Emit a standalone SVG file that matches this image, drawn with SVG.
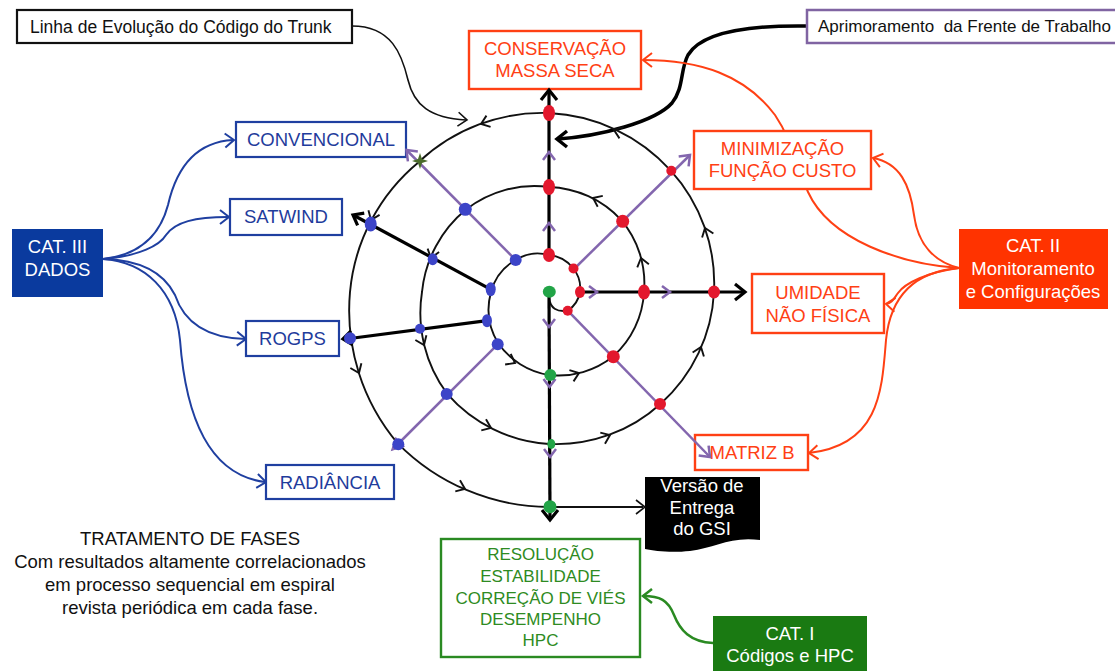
<svg xmlns="http://www.w3.org/2000/svg" width="1115" height="671" viewBox="0 0 1115 671">
<defs>
<style>
text{font-family:"Liberation Sans",Arial,sans-serif;}
.t17{font-size:17.5px;fill:#111}
.lb{font-size:18.5px;text-anchor:middle}
.lbs{font-size:17px;text-anchor:middle}
.tb{fill:#1F3C9C}.to{fill:#FF4014}.tg{fill:#2E8B22}.tw{fill:#fff}.tk{fill:#111}
.bxB{fill:#fff;stroke:#1F3FA0;stroke-width:2.2}
.bxO{fill:#fff;stroke:#FF4014;stroke-width:2.4}
.bxG{fill:#fff;stroke:#2A8A22;stroke-width:2.4}
.bxK{fill:#fff;stroke:#111;stroke-width:2.2}
.bxP{fill:#fff;stroke:#8064A2;stroke-width:2.5}
.k1{fill:none;stroke:#111;stroke-width:1.6}
.k3{fill:none;stroke:#000;stroke-width:3.5}
.cb{fill:none;stroke:#1F3FA0;stroke-width:2}
.co{fill:none;stroke:#FF4014;stroke-width:2}
.cg{fill:none;stroke:#2A8A22;stroke-width:2.5}
.sp{fill:none;stroke:#111;stroke-width:1.9}
.ax{fill:none;stroke:#000;stroke-width:3.2}
.pu{fill:none;stroke:#8366AE;stroke-width:2.5}
.puf{fill:#8366AE;stroke:#8366AE;stroke-width:1}
.rd{fill:#E3182D}.bl{fill:#3C44C8}.gr{fill:#22A447}
</style>
<path id="chS" d="M-8,-6 L0,0 L-8,6"/>
<path id="chM" d="M-9,-7 L0,0 L-9,7"/>
<path id="chL" d="M-10,-8 L0,0 L-10,8"/>
<path id="tri" d="M-12,-6 L0,0 L-12,6 Z"/>
</defs>
<rect width="1115" height="671" fill="#fff"/>

<g id="connectors">
  <path class="k1" d="M352,26 C392,26 402,55 408,80 C414,105 430,118 466,120"/>
  <use href="#chM" class="k1" transform="translate(467,120) rotate(5)"/>
  <path class="k3" d="M807,26 C740,25 700,35 688,55 C680,70 684,88 672,103 C655,122 600,136 558,139"/>
  <use href="#chL" class="k3" transform="translate(557,139) rotate(180)"/>

  <path class="cb" d="M103,259 C140,255 160,235 168,205 C176,170 195,142 233,140"/>
  <use href="#chM" class="cb" transform="translate(234,140) rotate(-3)"/>
  <path class="cb" d="M103,259 C140,256 160,245 166,235 C175,222 195,217 228,217"/>
  <use href="#chM" class="cb" transform="translate(229,217) rotate(0)"/>
  <path class="cb" d="M103,259 C145,260 165,275 175,295 C185,325 210,338 245,339"/>
  <use href="#chM" class="cb" transform="translate(246,339) rotate(2)"/>
  <path class="cb" d="M103,259 C145,262 175,290 180,340 C186,420 210,475 265,482"/>
  <use href="#chM" class="cb" transform="translate(266,482) rotate(7)"/>

  <path class="co" d="M959,268 C900,264 830,240 808,192 C796,165 792,140 775,115 C745,75 700,60 643,60"/>
  <use href="#chM" class="co" transform="translate(643,60) rotate(180)"/>
  <path class="co" d="M959,268 C935,262 918,245 914,215 C910,185 900,163 873,158"/>
  <use href="#chM" class="co" transform="translate(873,158) rotate(195)"/>
  <path class="co" d="M959,268 C928,272 905,283 898,293 C893,300 892,303 886,304"/>
  <use href="#chM" class="co" transform="translate(886,304) rotate(185)"/>
  <path class="co" d="M959,268 C910,272 890,300 886,340 C882,390 880,445 809,453"/>
  <use href="#chM" class="co" transform="translate(809,453) rotate(175)"/>

  <path class="cg" d="M713,643 C690,642 680,630 674,615 C668,600 660,596 643,596"/>
  <use href="#chM" class="cg" transform="translate(643,596) rotate(180)"/>
</g>

<g id="linha">
  <rect class="bxK" x="17" y="10" width="335" height="33"/>
  <text class="t17" x="30" y="33">Linha de Evolução do Código do Trunk</text>
</g>
<g id="aprimoramento">
  <rect class="bxP" x="807" y="10" width="318" height="33"/>
  <text class="t17" x="818" y="32" xml:space="preserve" style="font-size:17px">Aprimoramento  da Frente de Trabalho</text>
</g>
<g id="conservacao">
  <rect class="bxO" x="469" y="31" width="172" height="58"/>
  <text class="lb to" x="555" y="55">CONSERVAÇÃO</text>
  <text class="lb to" x="555" y="77">MASSA SECA</text>
</g>
<g id="minimizacao">
  <rect class="bxO" x="694" y="131" width="177" height="58"/>
  <text class="lb to" x="782.5" y="155">MINIMIZAÇÃO</text>
  <text class="lb to" x="782.5" y="177">FUNÇÃO CUSTO</text>
</g>
<g id="umidade">
  <rect class="bxO" x="752" y="274" width="132" height="59"/>
  <text class="lb to" x="818" y="299">UMIDADE</text>
  <text class="lb to" x="818" y="322">NÃO FÍSICA</text>
</g>
<g id="matrizb">
  <rect class="bxO" x="695" y="435" width="113" height="35"/>
  <text class="lb to" x="752" y="459">MATRIZ B</text>
</g>
<g id="cat2">
  <rect x="959" y="229" width="149" height="80" fill="#FF3300"/>
  <text class="lb tw" x="1033" y="252">CAT. II</text>
  <text class="lb tw" x="1033" y="275">Monitoramento</text>
  <text class="lb tw" x="1033" y="298">e Configurações</text>
</g>
<g id="convencional">
  <rect class="bxB" x="236" y="122" width="170" height="35"/>
  <text class="lb tb" x="321" y="146">CONVENCIONAL</text>
</g>
<g id="satwind">
  <rect class="bxB" x="230" y="199" width="112" height="36"/>
  <text class="lb tb" x="286" y="223">SATWIND</text>
</g>
<g id="rogps">
  <rect class="bxB" x="246" y="321" width="93" height="35"/>
  <text class="lb tb" x="292.5" y="345">ROGPS</text>
</g>
<g id="radiancia">
  <rect class="bxB" x="266" y="465" width="128" height="34"/>
  <text class="lb tb" x="330" y="489">RADIÂNCIA</text>
</g>
<g id="cat3">
  <rect x="12" y="229" width="91" height="68" fill="#0A3A9E"/>
  <text class="lb tw" x="57.5" y="253">CAT. III</text>
  <text class="lb tw" x="57.5" y="276">DADOS</text>
</g>
<g id="resolucao">
  <rect class="bxG" x="441" y="539" width="199" height="118"/>
  <text class="lbs tg" x="540.5" y="560">RESOLUÇÃO</text>
  <text class="lbs tg" x="540.5" y="582">ESTABILIDADE</text>
  <text class="lbs tg" x="540.5" y="604">CORREÇÃO DE VIÉS</text>
  <text class="lbs tg" x="540.5" y="625">DESEMPENHO</text>
  <text class="lbs tg" x="540.5" y="646">HPC</text>
</g>
<g id="cat1">
  <rect x="713" y="616" width="154" height="60" fill="#1A7A12"/>
  <text class="lb tw" x="790" y="640">CAT. I</text>
  <text class="lb tw" x="790" y="662">Códigos e HPC</text>
</g>
<g id="versao">
  <path d="M645,477 L760,477 L760,540 C730,536 715,548 690,551 C670,553 655,551 645,549 Z" fill="#000"/>
  <text class="lb tw" x="702" y="492">Versão de</text>
  <text class="lb tw" x="702" y="514">Entrega</text>
  <text class="lb tw" x="702" y="535">do GSI</text>
</g>
<g id="nota">
  <text class="lb tk" x="190" y="545">TRATAMENTO DE FASES</text>
  <text class="lb tk" x="190" y="568">Com resultados altamente correlacionados</text>
  <text class="lb tk" x="190" y="591">em processo sequencial em espiral</text>
  <text class="lb tk" x="190" y="614">revista periódica em cada fase.</text>
</g>

<g id="spiral">
  <path class="sp" d="M549,298 Q551,313 567.7,310.7 A28,28 0 0 0 580,292 A32,32 0 0 0 573,268 A35,35 0 0 0 549,255 A41,41 0 0 0 516.5,259.5 A52,52 0 0 0 491,292 A65,65 0 0 0 498,343 A77,77 0 0 0 549,375 A87,87 0 0 0 613.3,356.3 A93,93 0 0 0 644,292 A98,98 0 0 0 621.1,219.9 A103,103 0 0 0 549,187 A111,111 0 0 0 466.3,209.3 A122,122 0 0 0 422,292 A135,135 0 0 0 447.2,393.8 A148,148 0 0 0 549,444 A155,155 0 0 0 660.7,403.7 A161,161 0 0 0 714,292 A168,168 0 0 0 670.6,170.4 A175,175 0 0 0 549,113 A181,181 0 0 0 418.9,161.9 A191,191 0 0 0 350,292 A206,206 0 0 0 397.7,443.3 A214,214 0 0 0 549,507 L643,507"/>
  <use href="#chM" class="k1" transform="translate(645,507)"/>
  <use href="#chS" class="sp" transform="translate(515,363) rotate(28)"/>
  <use href="#chS" class="sp" transform="translate(579,373) rotate(-20)"/>
  <use href="#chS" class="sp" transform="translate(641,258) rotate(-105)"/>
  <use href="#chS" class="sp" transform="translate(593,198) rotate(-155)"/>
  <use href="#chS" class="sp" transform="translate(431,258) rotate(107)"/>
  <use href="#chS" class="sp" transform="translate(424,345) rotate(67)"/>
  <use href="#chS" class="sp" transform="translate(491,428) rotate(23)"/>
  <use href="#chS" class="sp" transform="translate(610,435) rotate(-23)"/>
  <use href="#chS" class="sp" transform="translate(701,347) rotate(-70)"/>
  <use href="#chS" class="sp" transform="translate(705,228) rotate(-110)"/>
  <use href="#chS" class="sp" transform="translate(614,130) rotate(-160)"/>
  <use href="#chS" class="sp" transform="translate(481,124) rotate(160)"/>
  <use href="#chS" class="sp" transform="translate(371,220) rotate(112)"/>
  <use href="#chS" class="sp" transform="translate(359,373) rotate(67)"/>
  <use href="#chS" class="sp" transform="translate(465,489) rotate(23)"/>

  <line class="ax" x1="549" y1="255" x2="549" y2="91"/>
  <use href="#chL" class="ax" transform="translate(549,90) rotate(-90)"/>
  <line class="ax" x1="549" y1="292" x2="550" y2="518"/>
  <use href="#chL" class="ax" transform="translate(550,520) rotate(90)"/>
  <line class="ax" x1="580" y1="292" x2="743" y2="292"/>
  <use href="#chL" class="ax" transform="translate(745,292)"/>
  <line class="ax" x1="490.7" y1="289.3" x2="355" y2="216"/>
  <use href="#chM" class="ax" transform="translate(353,215) rotate(-151.6)"/>
  <line class="ax" x1="487" y1="320.7" x2="346" y2="339"/>
  <use href="#chM" class="ax" transform="translate(343,339) rotate(172.7)"/>

  <line class="pu" x1="574" y1="269" x2="689" y2="156"/>
  <use href="#chM" class="pu" transform="translate(690,155) rotate(-45)"/>
  <line class="pu" x1="567.7" y1="310.7" x2="709" y2="456"/>
  <use href="#chM" class="pu" transform="translate(710,457) rotate(45)"/>
  <line class="pu" x1="515.7" y1="260" x2="407.5" y2="151"/>
  <use href="#chM" class="pu" transform="translate(406.5,150) rotate(-135)"/>
  <line class="pu" x1="497.7" y1="344.3" x2="394" y2="448"/>
  <use href="#tri" class="puf" transform="translate(391.5,450.5) rotate(135)"/>

  <use href="#chS" class="pu" transform="translate(549,152) rotate(-90)"/>
  <use href="#chS" class="pu" transform="translate(549,223) rotate(-90)"/>
  <use href="#chS" class="pu" transform="translate(549,327) rotate(90)"/>
  <use href="#chS" class="pu" transform="translate(549.5,387) rotate(90)"/>
  <use href="#chS" class="pu" transform="translate(550,457) rotate(90)"/>
  <use href="#chS" class="pu" transform="translate(597,292)"/>
  <use href="#chS" class="pu" transform="translate(670,292)"/>

  <ellipse class="rd" cx="549" cy="113" rx="6" ry="8"/>
  <ellipse class="rd" cx="549" cy="187" rx="6" ry="8"/>
  <ellipse class="rd" cx="549" cy="255" rx="6" ry="7"/>
  <circle class="rd" cx="573.5" cy="268.5" r="5"/>
  <ellipse class="rd" cx="580" cy="292" rx="5" ry="6"/>
  <circle class="rd" cx="567.7" cy="310.7" r="5"/>
  <ellipse class="rd" cx="644" cy="292" rx="6" ry="7.5"/>
  <ellipse class="rd" cx="714" cy="292" rx="6" ry="6.5"/>
  <circle class="rd" cx="622.7" cy="221.3" r="6.5"/>
  <circle class="rd" cx="671.3" cy="170.7" r="5"/>
  <circle class="rd" cx="613.3" cy="356.7" r="6.5"/>
  <circle class="rd" cx="660" cy="404" r="6"/>

  <circle class="bl" cx="515.7" cy="260" r="6"/>
  <ellipse class="bl" cx="490.7" cy="289.3" rx="5" ry="7"/>
  <ellipse class="bl" cx="487" cy="320.7" rx="5" ry="6.5"/>
  <circle class="bl" cx="497.7" cy="344.3" r="6"/>
  <circle class="bl" cx="465.3" cy="209.3" r="6.5"/>
  <ellipse class="bl" cx="432.7" cy="259.3" rx="5" ry="6"/>
  <circle class="bl" cx="420" cy="328.7" r="5"/>
  <circle class="bl" cx="446.7" cy="394" r="6"/>
  <ellipse class="bl" cx="370.7" cy="224" rx="6" ry="7.5"/>
  <circle class="bl" cx="350" cy="338.3" r="6"/>
  <circle class="bl" cx="398.3" cy="444.3" r="6"/>

  <ellipse class="gr" cx="549.3" cy="291.7" rx="6.5" ry="6"/>
  <circle class="gr" cx="550.3" cy="375" r="6"/>
  <ellipse class="gr" cx="551.3" cy="444" rx="4" ry="5"/>
  <circle class="gr" cx="550" cy="506.7" r="6.5"/>

  <path d="M420,153 L422,159 L428,161 L422,163 L420,169 L418,163 L412,161 L418,159 Z" fill="#4A6B2A"/>
</g>
</svg>
